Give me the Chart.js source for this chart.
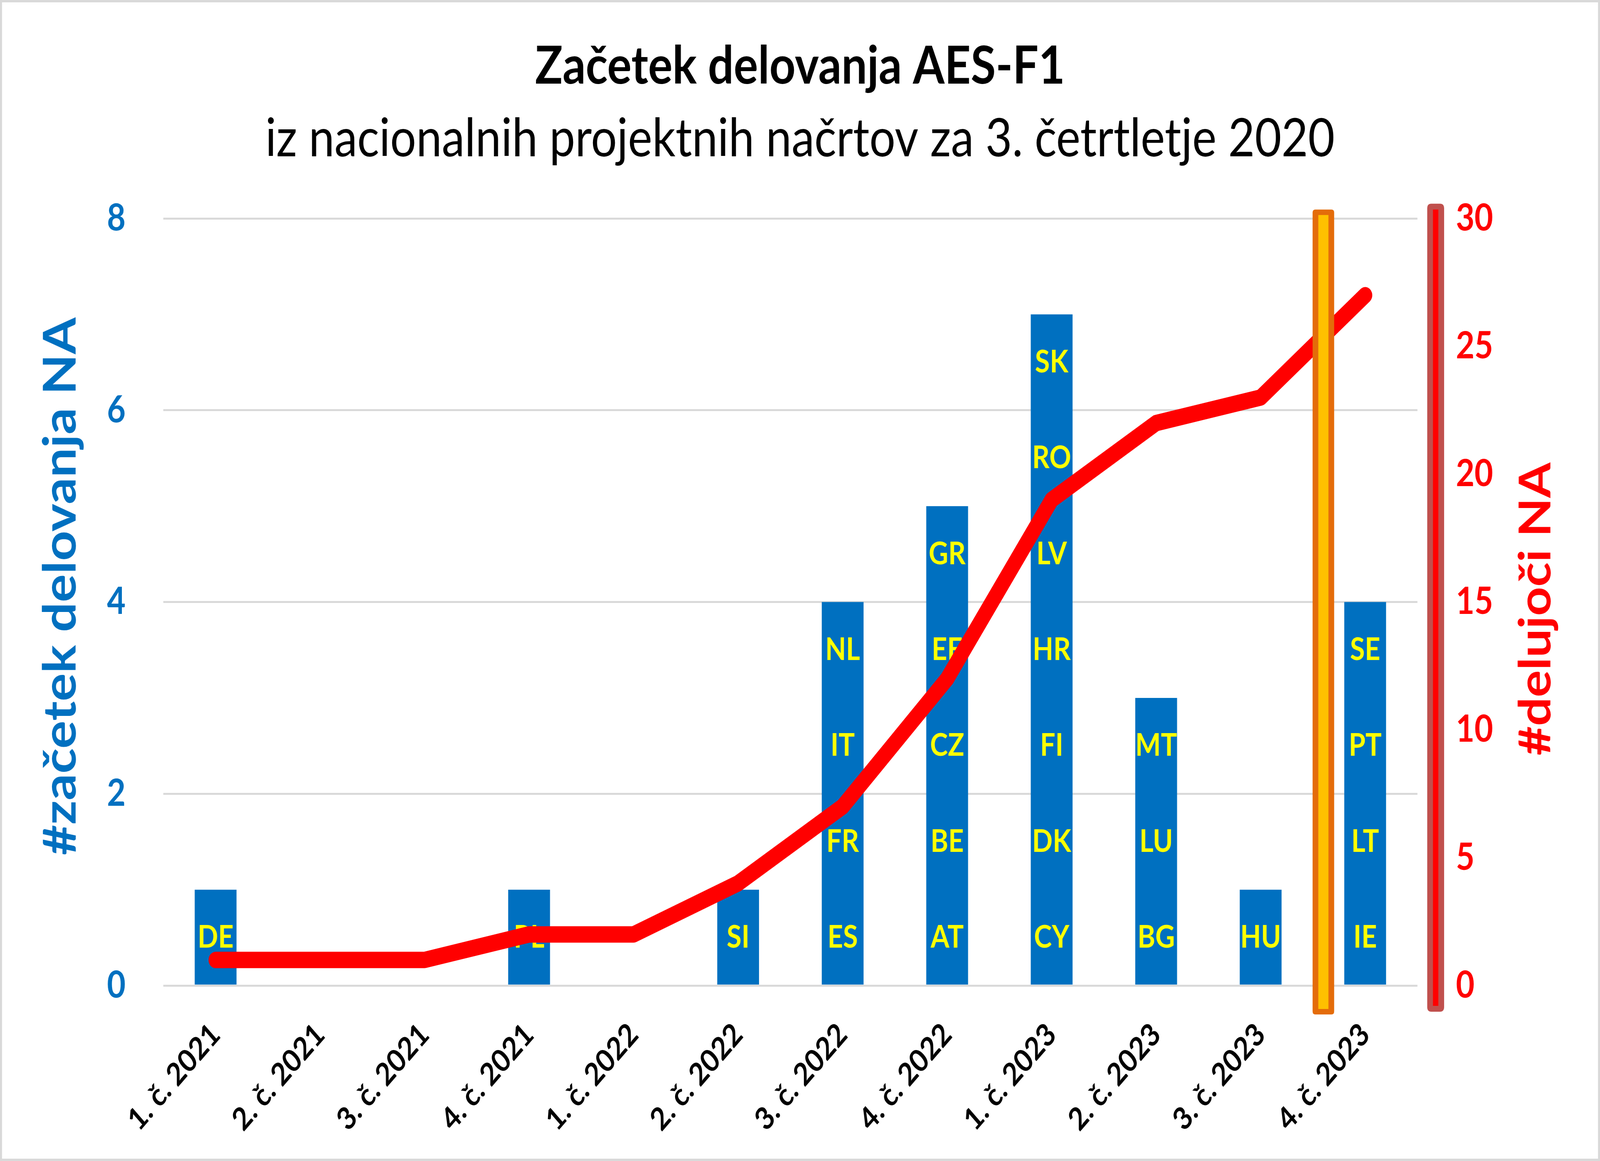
<!DOCTYPE html>
<html>
<head>
<meta charset="utf-8">
<script src="https://cdn.jsdelivr.net/npm/chart.js@4.4.1/dist/chart.umd.min.js"></script>
<style>
  html, body { margin: 0; padding: 0; background: #ffffff; overflow: hidden; }
  #c { display: block; }
</style>
</head>
<body>
<canvas id="c" width="4741" height="2971"></canvas>
<script>
// ---- Data ----
const quarters = ['1. č. 2021', '2. č. 2021', '3. č. 2021', '4. č. 2021',
                  '1. č. 2022', '2. č. 2022', '3. č. 2022', '4. č. 2022',
                  '1. č. 2023', '2. č. 2023', '3. č. 2023', '4. č. 2023'];
const startCounts = [1, 0, 0, 1, 0, 1, 4, 5, 7, 3, 1, 4];
const operatingCounts = [1, 1, 1, 2, 2, 4, 7, 12, 19, 22, 23, 27];
const countries = [
  ['DE'], [], [], ['PL'], [], ['SI'],
  ['ES', 'FR', 'IT', 'NL'],
  ['AT', 'BE', 'CZ', 'EE', 'GR'],
  ['CY', 'DK', 'FI', 'HR', 'LV', 'RO', 'SK'],
  ['BG', 'LU', 'MT'],
  ['HU'],
  ['IE', 'LT', 'PT', 'SE']
];
const leftAxisMax = 8, leftAxisStep = 2;
const rightAxisMax = 30, rightAxisStep = 5;
const markerQuarterPos = 10.6; // highlighted marker between 3. č. 2023 and 4. č. 2023

const titleText = 'Začetek delovanja AES-F1';
const subtitleText = 'iz nacionalnih projektnih načrtov za 3. četrtletje 2020';
const leftTitle = '#začetek delovanja NA';
const rightTitle = '#delujoči NA';

const FONT = 'Lato, "Open Sans", "Liberation Sans", sans-serif';
const BLUE = '#0070C0';
const RED = '#FF0000';

// the window may be narrower than the design size: show the full design squeezed into the window
const canvasEl = document.getElementById('c');
canvasEl.style.width = (window.innerWidth || 4741) + 'px';
canvasEl.style.height = (window.innerHeight || 2971) + 'px';

function roundRect(ctx, x, y, w, h, r) {
  ctx.beginPath();
  ctx.moveTo(x + r, y);
  ctx.lineTo(x + w - r, y);
  ctx.quadraticCurveTo(x + w, y, x + w, y + r);
  ctx.lineTo(x + w, y + h - r);
  ctx.quadraticCurveTo(x + w, y + h, x + w - r, y + h);
  ctx.lineTo(x + r, y + h);
  ctx.quadraticCurveTo(x, y + h, x, y + h - r);
  ctx.lineTo(x, y + r);
  ctx.quadraticCurveTo(x, y, x + r, y);
  ctx.closePath();
}

function rotatedText(ctx, text, x, y, font, color) {
  ctx.save();
  ctx.translate(x, y);
  ctx.rotate(-Math.PI / 2);
  ctx.fillStyle = color;
  ctx.font = font;
  ctx.textAlign = 'center';
  ctx.textBaseline = 'middle';
  ctx.fillText(text, 0, 0);
  ctx.restore();
}

const decorPlugin = {
  id: 'decor',
  beforeDraw(chart) {
    const ctx = chart.ctx;
    ctx.save();
    ctx.fillStyle = '#ffffff';
    ctx.fillRect(0, 0, chart.width, chart.height);
    ctx.strokeStyle = '#D9D9D9';
    ctx.lineWidth = 6;
    ctx.strokeRect(3, 3, chart.width - 6, chart.height - 6);
    ctx.restore();
  },
  beforeDatasetDraw(chart, args) {
    if (args.index !== 1) return;
    // country labels inside the bars (drawn under the line)
    const ctx = chart.ctx;
    const xs = chart.scales.x, ys = chart.scales.y;
    ctx.save();
    ctx.fillStyle = '#FFFF00';
    ctx.font = 'bold 80px ' + FONT;
    ctx.textAlign = 'center';
    ctx.textBaseline = 'middle';
    countries.forEach((list, i) => {
      const px = xs.getPixelForValue(i);
      list.forEach((code, j) => {
        ctx.fillText(code, px, ys.getPixelForValue(j + 0.5));
      });
    });
    ctx.restore();
  },
  afterDatasetsDraw(chart) {
    const ctx = chart.ctx;
    const xs = chart.scales.x, ys = chart.scales.y, y2 = chart.scales.y2;
    const ca = chart.chartArea;
    ctx.save();
    // highlighted marker bar
    const mx = xs.getPixelForValue(markerQuarterPos);
    const mTop = ys.getPixelForValue(leftAxisMax) - 23;
    const mBot = ys.getPixelForValue(0) + 74;
    roundRect(ctx, mx - 32, mTop, 64, mBot - mTop, 8);
    ctx.fillStyle = '#E46C0A';
    ctx.fill();
    ctx.fillStyle = '#FFC000';
    ctx.fillRect(mx - 15, mTop + 14, 30, mBot - mTop - 28);
    // thick right axis bar
    const ax = ca.right + 54;
    const aTop = y2.getPixelForValue(rightAxisMax) - 38;
    const aBot = y2.getPixelForValue(0) + 67;
    roundRect(ctx, ax - 25, aTop, 50, aBot - aTop, 12);
    ctx.fillStyle = '#C0504D';
    ctx.fill();
    ctx.fillStyle = RED;
    ctx.fillRect(ax - 8, aTop + 15, 16, aBot - aTop - 30);
    ctx.restore();
    // axis titles (both read bottom to top)
    const midY = (ys.top + ys.bottom) / 2;
    rotatedText(ctx, leftTitle, ys.left + 180, midY - 40, 'bold 135px ' + FONT, BLUE);
    rotatedText(ctx, rightTitle, y2.left + 352, midY + 18, 'bold 130px ' + FONT, RED);
  }
};

new Chart(canvasEl, {
  data: {
    labels: quarters,
    datasets: [
      {
        type: 'bar',
        label: leftTitle,
        data: startCounts,
        backgroundColor: BLUE,
        yAxisID: 'y',
        barPercentage: 0.4,
        categoryPercentage: 1.0,
        order: 2
      },
      {
        type: 'line',
        label: rightTitle,
        data: operatingCounts,
        borderColor: RED,
        backgroundColor: RED,
        borderWidth: 42,
        borderCapStyle: 'round',
        borderJoinStyle: 'round',
        pointRadius: 0,
        pointHoverRadius: 0,
        tension: 0,
        yAxisID: 'y2',
        order: 1
      }
    ]
  },
  options: {
    responsive: false,
    animation: false,
    devicePixelRatio: 1,
    layout: { padding: { top: 20, left: 0, right: 0, bottom: 0 } },
    plugins: {
      legend: { display: false },
      tooltip: { enabled: false },
      title: {
        display: true,
        text: titleText,
        color: '#000000',
        font: { family: FONT, size: 135, weight: 'bold', lineHeight: 1.2 },
        padding: { top: 69, bottom: 0 }
      },
      subtitle: {
        display: true,
        text: subtitleText,
        color: '#000000',
        font: { family: FONT, size: 136, weight: 'normal', lineHeight: 1.2 },
        padding: { top: 24, bottom: 121 }
      }
    },
    scales: {
      x: {
        grid: { display: false },
        border: { display: false },
        ticks: {
          color: '#000000',
          font: { family: FONT, size: 80, weight: 'bold' },
          minRotation: 45,
          maxRotation: 45,
          padding: 70,
          autoSkip: false
        },
        afterFit(s) { s.height = 449; }
      },
      y: {
        position: 'left',
        min: 0,
        max: leftAxisMax,
        ticks: {
          stepSize: leftAxisStep,
          color: BLUE,
          font: { family: FONT, size: 95, weight: 'bold' },
          padding: 112
        },
        grid: { color: '#D9D9D9', lineWidth: 5, drawTicks: false },
        border: { display: false },
        afterFit(s) { s.width = 484; }
      },
      y2: {
        position: 'right',
        min: 0,
        max: rightAxisMax,
        ticks: {
          stepSize: rightAxisStep,
          color: RED,
          font: { family: FONT, size: 95, weight: 'bold' },
          padding: 114
        },
        grid: { display: false, drawTicks: false },
        border: { display: false },
        afterFit(s) { s.width = 541; }
      }
    }
  },
  plugins: [decorPlugin]
});
</script>
</body>
</html>
